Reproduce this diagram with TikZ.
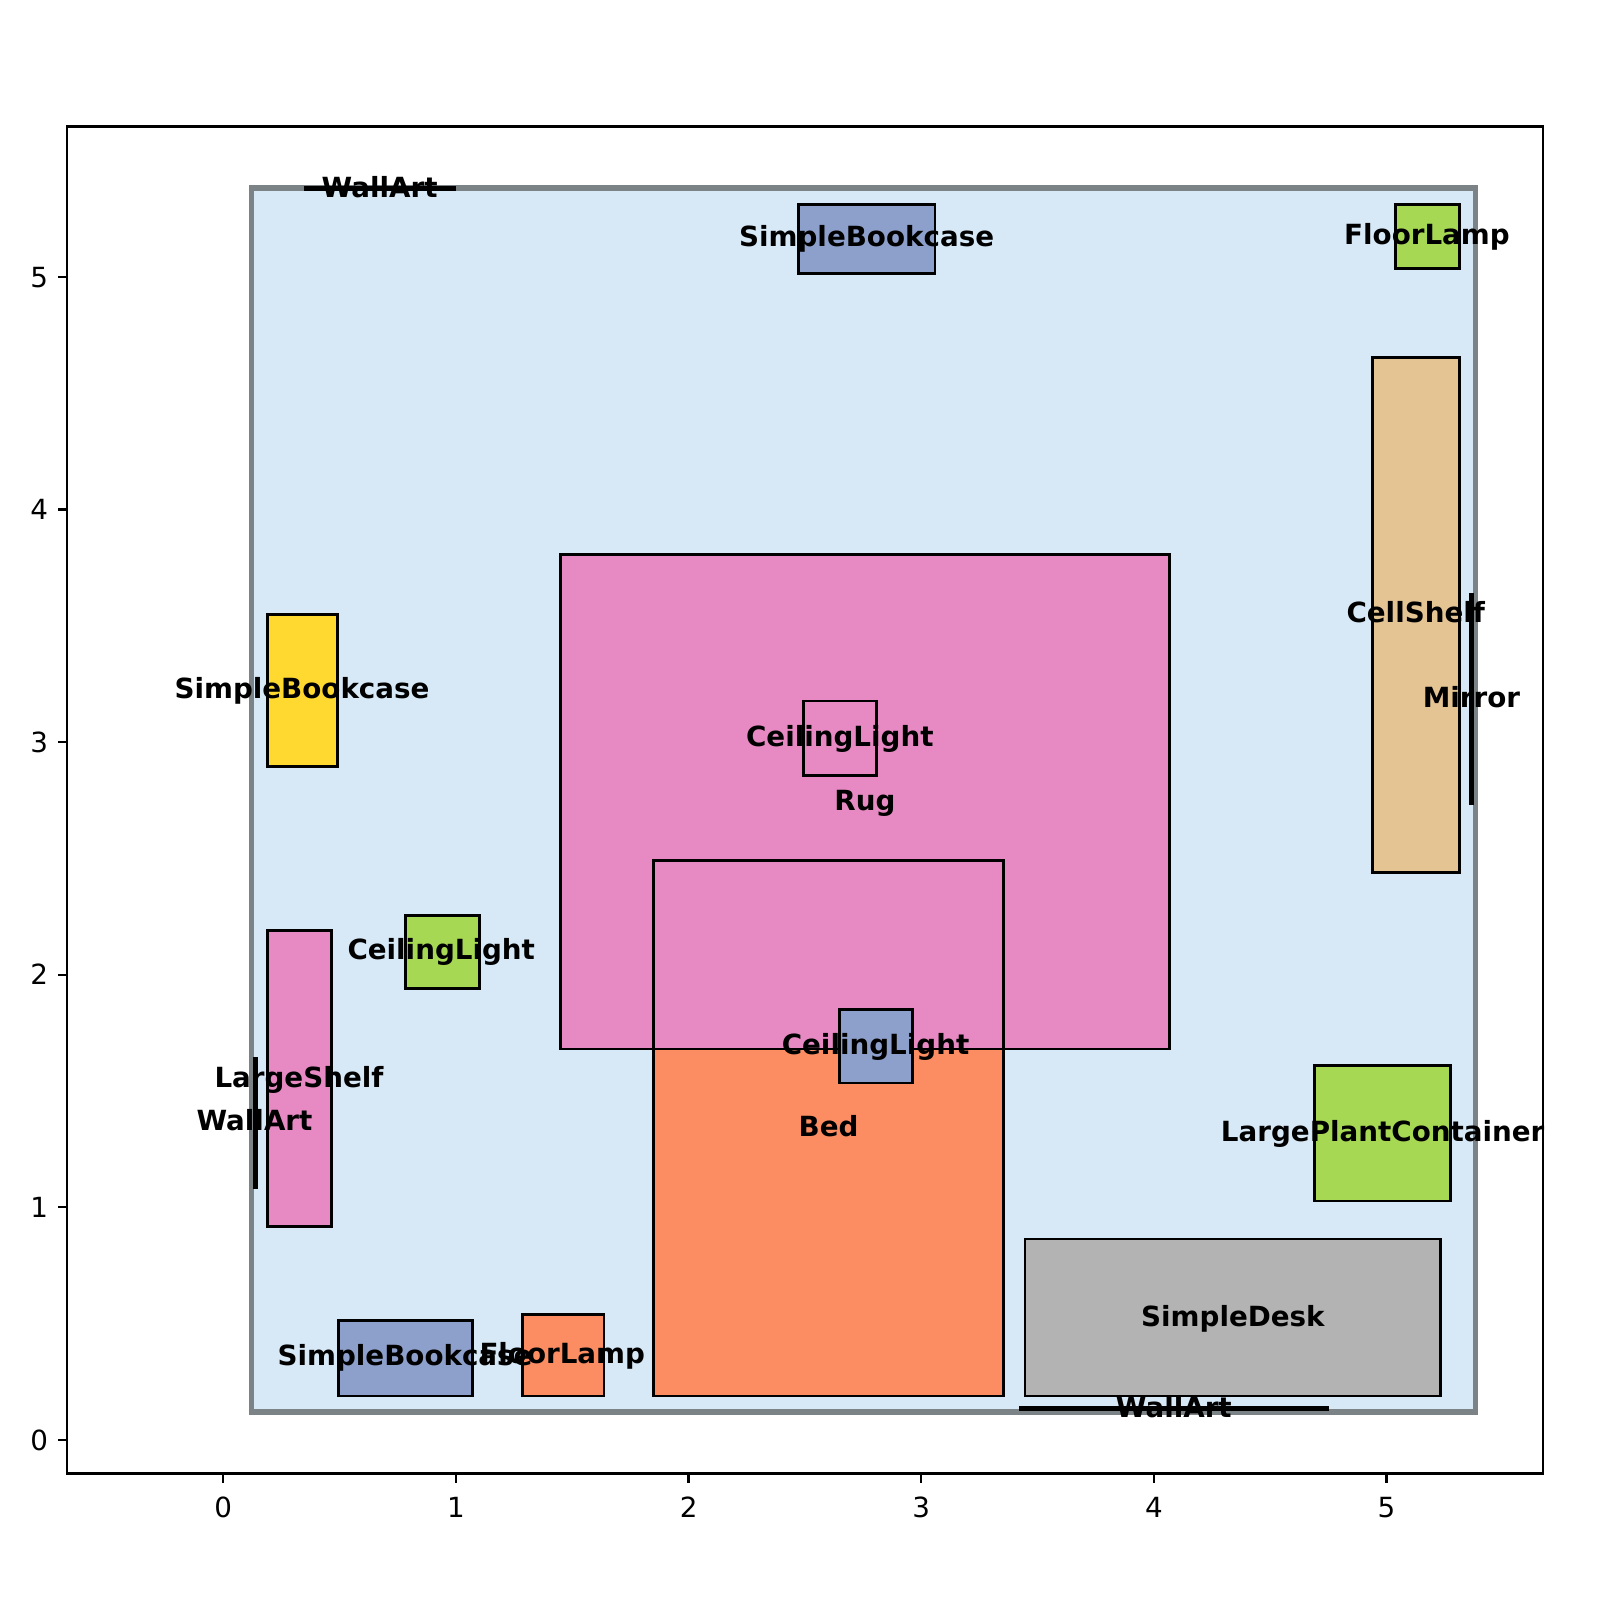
\documentclass[tikz,border=0pt]{standalone}
\usepackage{fontspec}
\setmainfont{DejaVu Sans}
\definecolor{cpink}{HTML}{E78AC3}
\definecolor{corange}{HTML}{FC8D62}
\definecolor{cblue}{HTML}{8DA0CB}
\definecolor{cyellow}{HTML}{FFD92F}
\definecolor{cgreen}{HTML}{A6D854}
\definecolor{ctan}{HTML}{E5C494}
\definecolor{cgray}{HTML}{B3B3B3}
\definecolor{croom}{HTML}{D7E9F7}
\definecolor{cborder}{HTML}{7C8386}
\definecolor{cwall}{HTML}{17130A}
\tikzset{
  item/.style={draw=black,line width=2.7pt,line join=miter},
  wallpiece/.style={draw=black,fill=cwall,line width=2.4pt},
  lab/.style={inner sep=0pt,font=\fontsize{27.2}{30}\selectfont\bfseries,text=black},
  ticklab/.style={inner sep=0pt,font=\fontsize{27.2}{30}\selectfont,text=black},
  axisline/.style={draw=black,line width=2.2pt}
}
\begin{document}
\begin{tikzpicture}[x=1pt,y=-1pt]
\useasboundingbox (0,0) rectangle (1568,1568);
\fill[white] (0,0) rectangle (1568,1568);
% room
\draw[fill=croom,draw=cborder,line width=5.2pt] (246.3,184.3) rectangle (1446,1383.7);
% furniture
\fill[corange] (640.4,843) rectangle (983.4,1368);
\draw[item,fill=cpink] (549,543.3) rectangle (1146,1028);
\draw[item] (640.4,843.3) rectangle (983.4,1368);
\draw[item,fill=cblue] (782.3,200.3) rectangle (916.4,268);
\draw[item,fill=cgreen] (1367.3,200.3) rectangle (1430,263);
\draw[item,fill=ctan] (1345,350) rectangle (1430,855);
\draw[item,fill=cpink] (787.3,687) rectangle (859,760);
\draw[item,fill=cyellow] (262,602) rectangle (330.4,751);
\draw[item,fill=cpink] (262,912) rectangle (325,1202.3);
\draw[item,fill=cgreen] (397.4,897) rectangle (470,969);
\draw[item,fill=cblue] (822.4,989) rectangle (894,1061.4);
\draw[item,fill=cgreen] (1288,1044) rectangle (1421.3,1177);
\draw[item,fill=cgray] (1004.4,1214.3) rectangle (1411.4,1368);
\draw[item,fill=cblue] (331.4,1294) rectangle (463,1368);
\draw[item,fill=corange] (512,1288) rectangle (592,1368);
% wall pieces
\draw[wallpiece] (299,183.6) rectangle (446,186.2);
\draw[wallpiece] (248.7,1037) rectangle (251.2,1164);
\draw[wallpiece] (1441,582) rectangle (1443.6,788);
\draw[wallpiece] (1000,1379.3) rectangle (1301,1381.9);
% labels
\node[lab] (l1) at (372,183) {WallArt};
\node[lab] (l2) at (849.3,234) {SimpleBookcase};
\node[lab] (l3) at (1398.4,232) {FloorLamp};
\node[lab] (l4) at (1387.4,600) {CellShelf};
\node[lab] (l5) at (1442,683) {Mirror};
\node[lab] (l6) at (823,724) {CeilingLight};
\node[lab] (l7) at (847.6,787) {Rug};
\node[lab] (l8) at (296,677) {SimpleBookcase};
\node[lab] (l9) at (432.4,933) {CeilingLight};
\node[lab] (l10) at (858,1026) {CeilingLight};
\node[lab] (l11) at (293,1058) {LargeShelf};
\node[lab] (l12) at (249.4,1098) {WallArt};
\node[lab] (l13) at (812,1104) {Bed};
\node[lab] (l14) at (1355,1111) {LargePlantContainer};
\node[lab] (l15) at (1208.3,1292) {SimpleDesk};
\node[lab] (l16) at (397,1331) {SimpleBookcase};
\node[lab] (l17) at (551,1329) {FloorLamp};
\node[lab] (l18) at (1150.3,1379) {WallArt};
% axes
\draw[axisline] (66,124) rectangle (1512,1444);
\foreach \v in {0,...,5}{
  \pgfmathsetmacro{\xp}{218.8+228*\v}
  \pgfmathsetmacro{\yp}{1411-227.9*\v}
  \draw[axisline] (\xp,1444) -- (\xp,1453.5);
  \draw[axisline] (66,\yp) -- (56.5,\yp);
  \node[ticklab,anchor=base] (xt\v) at (\xp,1487) {\v};
  \node[ticklab,anchor=base east] (yt\v) at (47.3,\yp+10) {\v};
}
\end{tikzpicture}
\end{document}
